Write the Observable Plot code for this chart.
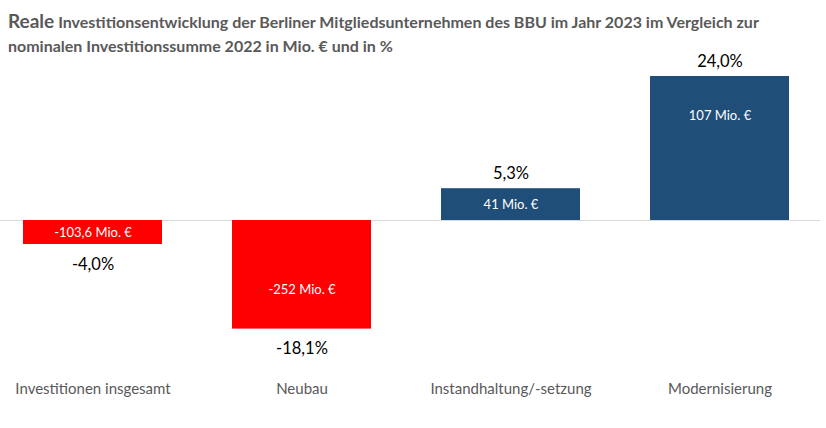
<!DOCTYPE html>
<html>
<head>
<meta charset="utf-8">
<script src="https://cdn.jsdelivr.net/npm/d3@7"></script>
<script src="https://cdn.jsdelivr.net/npm/@observablehq/plot@0.6"></script>
<style>
  html, body { margin: 0; padding: 0; background: #fff; }
  body { width: 826px; height: 428px; overflow: hidden; font-family: Lato, "Open Sans", sans-serif; position: relative; }
  #title { position: absolute; top: 0; left: 0; z-index: 2; padding: 9px 0 0 8px; color: #595959; font-weight: bold; font-size: 16px; line-height: 24px; }
  #title .big { font-size: 19px; }
  #chart { position: absolute; top: 36px; left: 0; }
</style>
</head>
<body>
<div id="title"><span class="big">Reale</span> Investitionsentwicklung der Berliner Mitgliedsunternehmen des BBU im Jahr 2023 im Vergleich zur<br>nominalen Investitionssumme 2022 in Mio. € und in %</div>
<div id="chart"></div>
<script>
const categories = ["Investitionen insgesamt", "Neubau", "Instandhaltung/-setzung", "Modernisierung"];
const percent = [-4.0, -18.1, 5.3, 24.0];
const amount = ["-103,6", "-252", "41", "107"];

const data = categories.map((c, i) => ({ cat: c, pct: percent[i], amt: amount[i] }));
const fmtPct = v => v.toFixed(1).replace(".", ",") + "%";

const chart = Plot.plot({
  width: 826,
  height: 392,
  marginLeft: 22,
  marginRight: 37,
  marginTop: 40,
  marginBottom: 52,
  style: { fontFamily: "Lato, 'Open Sans', sans-serif", background: "transparent" },
  x: { domain: categories, paddingInner: 0.335, paddingOuter: 0, label: null },
  y: { domain: [-26, 24], axis: null },
  marks: [
    Plot.ruleY([0], { stroke: "#d9d9d9", strokeWidth: 1, insetLeft: -22, insetRight: -31 }),
    Plot.barY(data, { x: "cat", y: "pct", fill: d => d.pct < 0 ? "#ff0000" : "#1f4e79" }),
    Plot.text(data, {
      x: "cat",
      y: d => Math.sign(d.pct) * Math.max(Math.abs(d.pct) / 2, Math.abs(d.pct) - 6.5),
      text: d => d.amt + " Mio. €",
      fill: "white",
      fontSize: 13
    }),
    Plot.text(data.filter(d => d.pct >= 0), {
      x: "cat", y: "pct", text: d => fmtPct(d.pct), dy: -15, fontSize: 16.5, fill: "#000"
    }),
    Plot.text(data.filter(d => d.pct < 0), {
      x: "cat", y: "pct", text: d => fmtPct(d.pct), dy: 20, fontSize: 16.5, fill: "#000"
    }),
    Plot.axisX({ anchor: "bottom", tickSize: 0, tickPadding: 7, fontSize: 15, color: "#595959", label: null })
  ]
});
document.getElementById("chart").appendChild(chart);
</script>
</body>
</html>
